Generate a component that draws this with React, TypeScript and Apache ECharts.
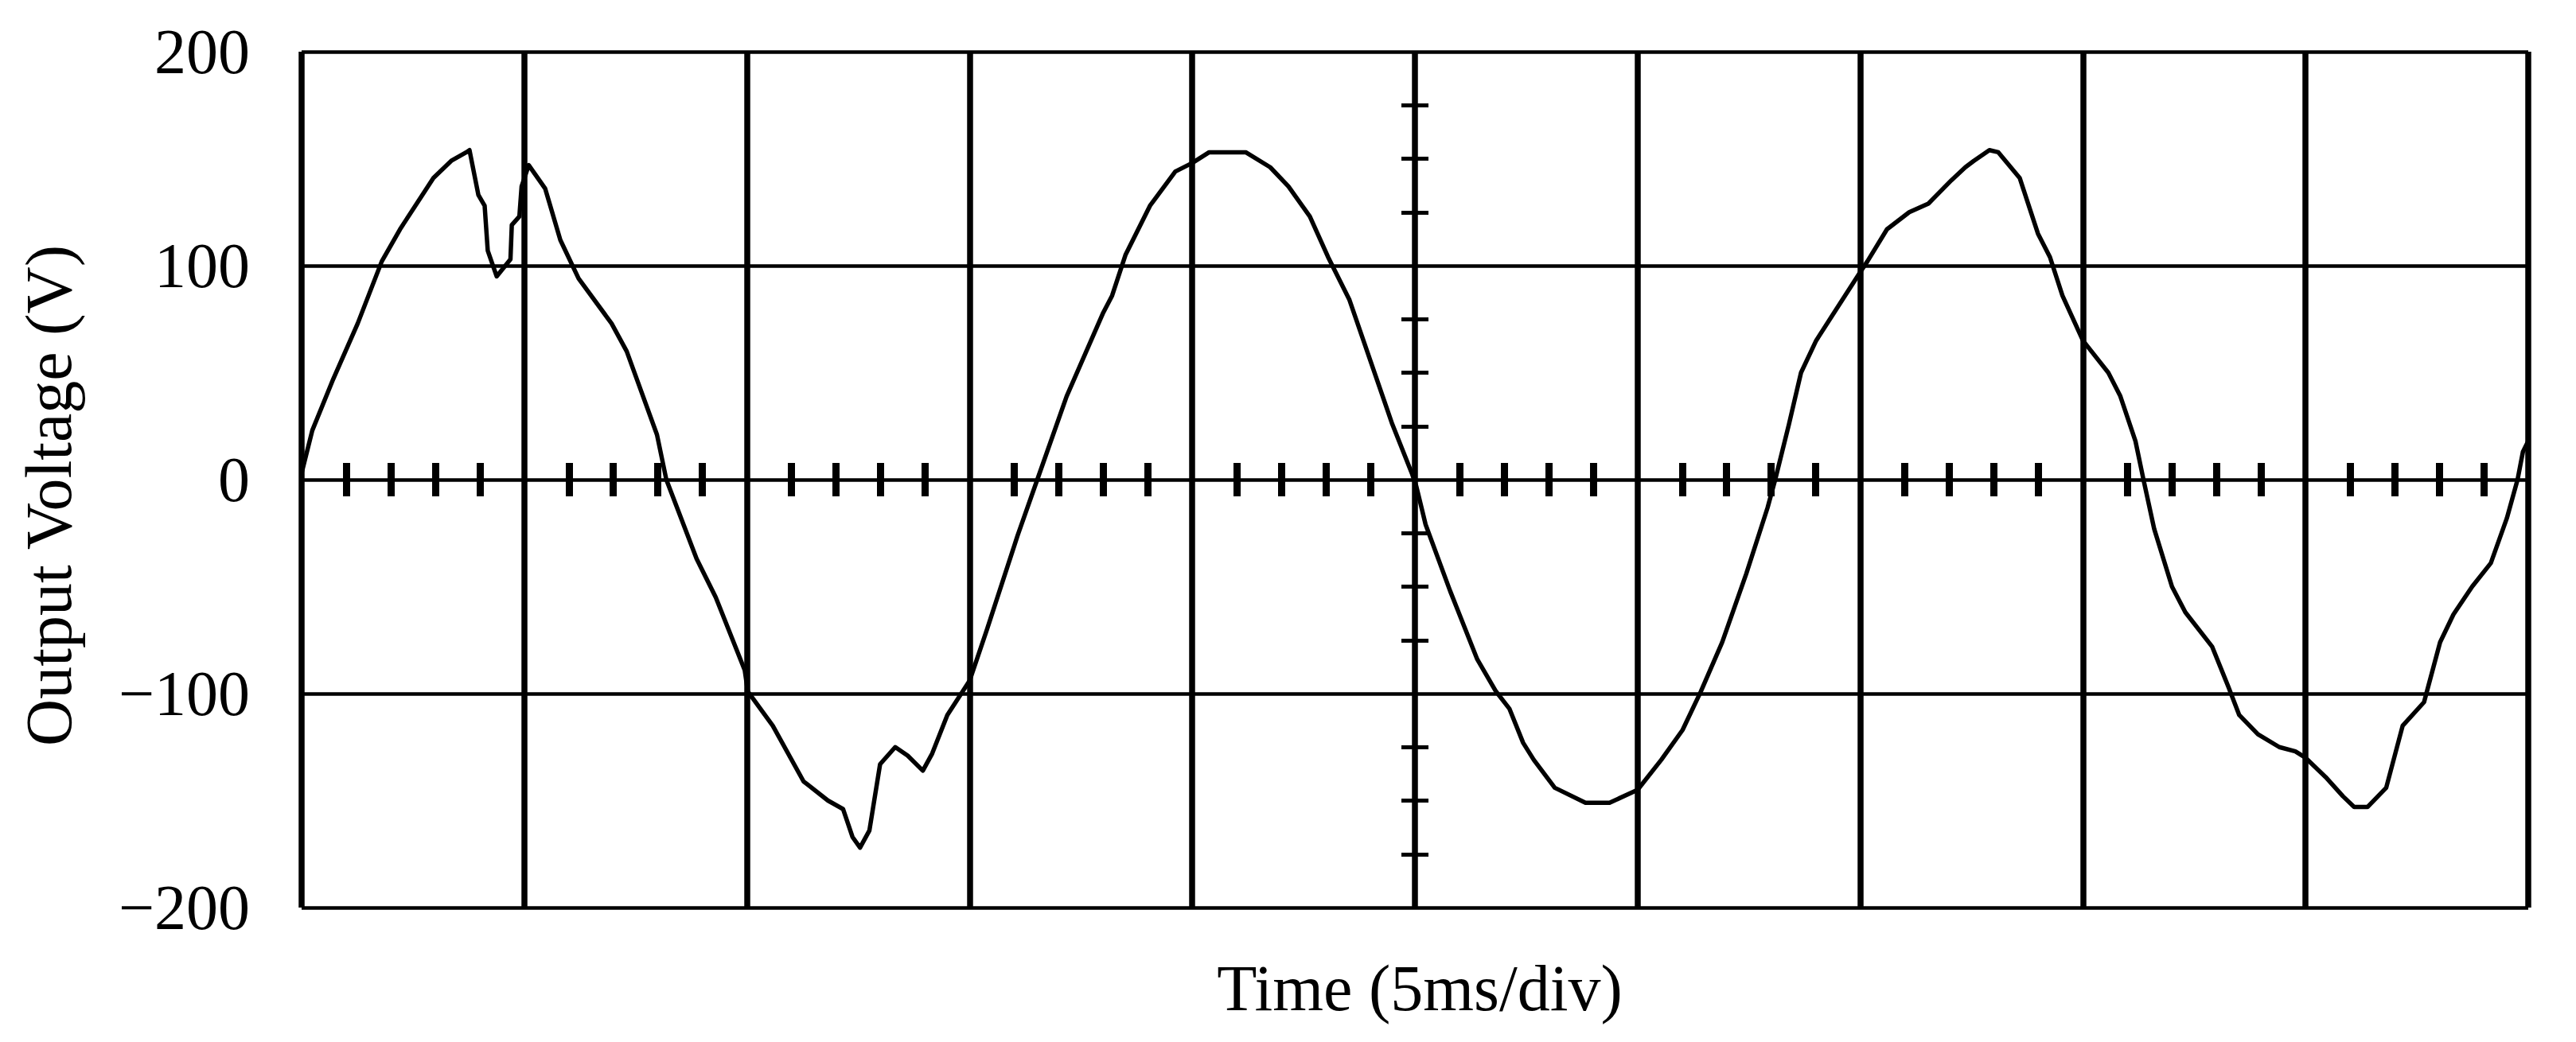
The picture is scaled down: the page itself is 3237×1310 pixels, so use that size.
import React, { useEffect, useRef } from "react";
import * as echarts from "echarts";

// Time in ms (5 ms per division, 10 divisions)
const timeMs = [
  0.0, 0.24, 0.71, 1.26, 1.8, 2.21, 2.96, 3.36, 3.7, 3.77, 3.97, 4.11, 4.18, 4.38, 4.69, 4.72, 4.89, 4.94,
  5.1, 5.47, 5.81, 6.22, 6.96, 7.3, 7.98, 8.19, 8.87, 9.3, 9.95, 10.02, 10.58, 11.27, 11.82, 12.16, 12.37,
  12.54, 12.75, 12.99, 13.33, 13.61, 13.95, 14.16, 14.5, 15.0, 15.39, 16.08, 16.52, 17.18, 18.0, 18.2, 18.5,
  19.05, 19.62, 20.0, 20.38, 21.2, 21.75, 22.16, 22.64, 23.05, 23.53, 24.01, 24.49, 24.93, 25.03, 25.24,
  25.79, 26.4, 26.82, 27.12, 27.43, 27.67, 28.14, 28.83, 29.37, 30.0, 30.53, 31.01, 31.42, 31.9, 32.44,
  32.92, 33.09, 33.4, 33.67, 34.01, 34.35, 35.0, 35.16, 35.6, 36.1, 36.53, 37.05, 37.36, 37.55, 37.9, 38.1,
  38.58, 38.99, 39.26, 39.54, 40.0, 40.57, 40.84, 41.18, 41.36, 41.6, 42.0, 42.3, 42.9, 43.27, 43.51, 43.93,
  44.41, 44.77, 45.0, 45.45, 45.84, 46.09, 46.39, 46.81, 47.18, 47.66, 48.02, 48.32, 48.74, 49.16, 49.52,
  49.76, 49.88, 50.0,
];

// Output voltage in V
const voltage = [
  3, 23, 47, 73, 102, 117, 141, 149, 153, 154, 133, 128, 107, 95, 103, 119, 123, 137,
  147, 136, 112, 94, 73, 60, 21, 0, -37, -55, -89, -99, -115, -141, -150, -154, -167,
  -172, -164, -133, -125, -129, -136, -128, -110, -94, -70, -26, 0, 39, 78, 86, 105,
  128, 144, 148, 153, 153, 146, 137, 123, 104, 84, 55, 26, 3, -3, -21,
  -52, -84, -99, -107, -123, -131, -144, -151, -151, -145, -131, -117, -99, -76, -44,
  -13, 0, 26, 50, 65, 76, 97, 102, 117, 125, 129, 140, 146, 149, 154, 153,
  141, 115, 104, 86, 65, 50, 39, 18, 0, -23, -50, -62, -78, -97, -110, -119,
  -125, -127, -130, -139, -148, -153, -153, -144, -115, -104, -76, -63, -50, -39, -18,
  0, 13, 18,
];

const X_MIN = 0;
const X_MAX = 50;
const X_STEP = 5;
const Y_MIN = -200;
const Y_MAX = 200;
const Y_STEP = 100;

const X_TITLE = "Time (5ms/div)";
const Y_TITLE = "Output Voltage (V)";

const FONT = "'Liberation Serif', 'Times New Roman', Times, serif";

export default function App() {
  const ref = useRef<HTMLDivElement | null>(null);

  useEffect(() => {
    if (!ref.current) return;
    const chart = echarts.init(ref.current, null, { renderer: "svg" });

    const gridLeft = 379;
    const gridTop = 65;
    const gridWidth = 2798;
    const gridHeight = 1076;
    const half = gridWidth / 2;

    const tickXAxis = (position: "bottom" | "top") => ({
      type: "value",
      min: X_MIN,
      max: X_MAX,
      interval: X_STEP,
      position,
      axisLine: { show: false, onZero: true, onZeroAxisIndex: 0 },
      axisTick: { show: false },
      minorTick: { show: true, splitNumber: 5, length: 21, lineStyle: { color: "#000", width: 9 } },
      axisLabel: { show: false },
      splitLine: { show: false },
      minorSplitLine: { show: false },
    });

    const tickYAxis = (position: "left" | "right") => ({
      type: "value",
      min: Y_MIN,
      max: Y_MAX,
      interval: Y_STEP,
      position,
      offset: -half,
      axisLine: { show: false, onZero: false },
      axisTick: { show: false },
      minorTick: { show: true, splitNumber: 4, length: 17, lineStyle: { color: "#000", width: 5 } },
      axisLabel: { show: false },
      splitLine: { show: false },
      minorSplitLine: { show: false },
    });

    chart.setOption({
      animation: false,
      backgroundColor: "#ffffff",
      grid: {
        left: gridLeft,
        top: gridTop,
        width: gridWidth,
        height: gridHeight,
        containLabel: false,
        outerBoundsMode: "none",
      },
      xAxis: [
        {
          type: "value",
          min: X_MIN,
          max: X_MAX,
          interval: X_STEP,
          position: "bottom",
          axisLine: { show: false, onZero: false },
          axisTick: { show: false },
          axisLabel: { show: false },
          splitLine: { show: true, showMinLine: true, showMaxLine: true, lineStyle: { color: "#000", width: 7.5 } },
          name: X_TITLE,
          nameLocation: "middle",
          nameGap: 60,
          nameTextStyle: { fontFamily: FONT, fontSize: 82, color: "#000", padding: [0, 0, 0, 12] },
        },
        tickXAxis("bottom"),
        tickXAxis("top"),
      ],
      yAxis: [
        {
          type: "value",
          min: Y_MIN,
          max: Y_MAX,
          interval: Y_STEP,
          position: "left",
          axisLine: { show: false, onZero: false },
          axisTick: { show: false },
          axisLabel: {
            show: true,
            fontFamily: FONT,
            fontSize: 80,
            color: "#000",
            margin: 65,
            padding: [0, 0, 10, 0],
            formatter: (v: number) => String(v).replace("-", "\u2212"),
          },
          splitLine: { show: true, showMinLine: true, showMaxLine: true, lineStyle: { color: "#000", width: 4.5 } },
          name: Y_TITLE,
          nameLocation: "middle",
          nameGap: 277,
          nameTextStyle: { fontFamily: FONT, fontSize: 82, color: "#000", padding: [0, 40, 0, 0] },
        },
        tickYAxis("left"),
        tickYAxis("right"),
      ],
      series: [
        {
          type: "line",
          xAxisIndex: 0,
          yAxisIndex: 0,
          data: timeMs.map((t, i) => [t, voltage[i]]),
          showSymbol: false,
          symbol: "none",
          smooth: false,
          lineStyle: { color: "#000", width: 5.5, join: "round", cap: "round" },
          z: 5,
        },
      ],
    });

    return () => {
      chart.dispose();
    };
  }, []);

  return (
    <div
      ref={ref}
      style={{ position: "absolute", left: 0, top: 0, width: 3237, height: 1310, background: "#fff" }}
    />
  );
}
